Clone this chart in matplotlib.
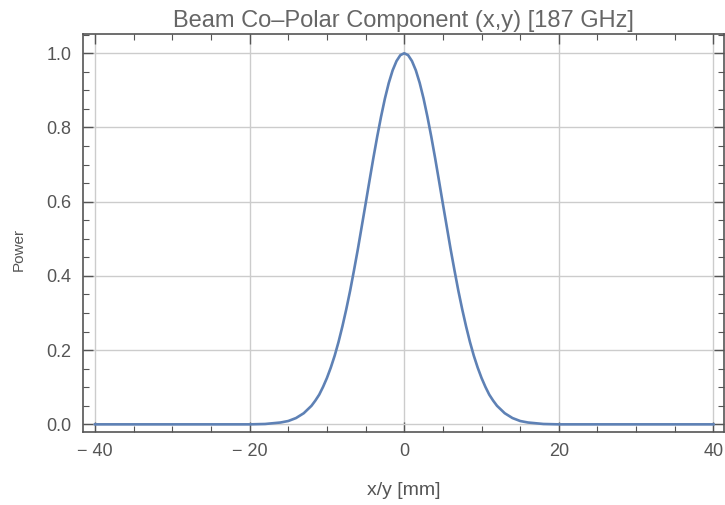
import matplotlib
matplotlib.use("Agg")
import matplotlib.pyplot as plt
from matplotlib.ticker import MultipleLocator

# beam profile
pos_mm = [-40, -30, -20, -18, -16, -15, -14, -13, -12, -11.5, -11, -10.5, -10,
          -9.5, -9, -8.5, -8, -7.5, -7, -6.5, -6, -5.5, -5, -4.5, -4, -3.5,
          -3, -2.5, -2, -1.5, -1, -0.5, 0, 0.5, 1, 1.5, 2, 2.5, 3, 3.5, 4,
          4.5, 5, 5.5, 6, 6.5, 7, 7.5, 8, 8.5, 9, 9.5, 10, 10.5, 11, 11.5,
          12, 13, 14, 15, 16, 18, 20, 30, 40]
power = [0.0, 0.0, 0.0, 0.001, 0.005, 0.009, 0.017, 0.030, 0.050, 0.064,
         0.080, 0.101, 0.125, 0.153, 0.185, 0.222, 0.264, 0.310, 0.360,
         0.415, 0.472, 0.533, 0.594, 0.656, 0.717, 0.775, 0.829, 0.878,
         0.920, 0.954, 0.979, 0.995, 1.0, 0.995, 0.979, 0.954, 0.920, 0.878,
         0.829, 0.775, 0.717, 0.656, 0.594, 0.533, 0.472, 0.415, 0.360,
         0.310, 0.264, 0.222, 0.185, 0.153, 0.125, 0.101, 0.080, 0.064,
         0.050, 0.030, 0.017, 0.009, 0.005, 0.001, 0.0, 0.0, 0.0]

x_ticks = [-40, -20, 0, 20, 40]
y_ticks = [0.0, 0.2, 0.4, 0.6, 0.8, 1.0]

plt.rcParams['font.family'] = ['Liberation Sans', 'DejaVu Sans']

line_col = '#5E81B5'
frame_col = '#555555'
text_col = '#555555'

fig = plt.figure(figsize=(7.25, 5.05), dpi=100)
ax = fig.add_axes([0.114, 0.145, 0.885, 0.787])

ax.plot(pos_mm, power, color=line_col, linewidth=1.9, solid_joinstyle='round')

ax.set_xlim(-41.6, 41.4)
ax.set_ylim(-0.020, 1.051)
ax.set_xticks(x_ticks)
ax.set_yticks(y_ticks)
ax.set_xticklabels([f'\u2212 {abs(v)}' if v < 0 else str(v) for v in x_ticks])
ax.set_yticklabels([f'{v:.1f}' for v in y_ticks])
ax.xaxis.set_minor_locator(MultipleLocator(5))
ax.yaxis.set_minor_locator(MultipleLocator(0.05))

ax.grid(True, which='major', color='#cccccc', linewidth=1.0)
ax.set_axisbelow(True)

for s in ax.spines.values():
    s.set_color(frame_col)
    s.set_linewidth(1.2)

ax.tick_params(which='both', direction='in', top=True, right=True,
               color=frame_col, labelcolor=text_col, labelsize=13)
ax.tick_params(which='major', length=7, width=1.0, pad=8)
ax.tick_params(which='minor', length=4, width=0.8)

ax.set_title('Beam Co\u2013Polar Component (x,y) [187 GHz]', fontsize=17,
             color='#666666', pad=5)
ax.set_xlabel('x/y [mm]', fontsize=14, color=text_col, labelpad=16)
ax.set_ylabel('Power', fontsize=11, color=text_col)
ax.yaxis.set_label_coords(-0.088, 0.46)

fig.savefig('out.png', dpi=100, facecolor='white')
